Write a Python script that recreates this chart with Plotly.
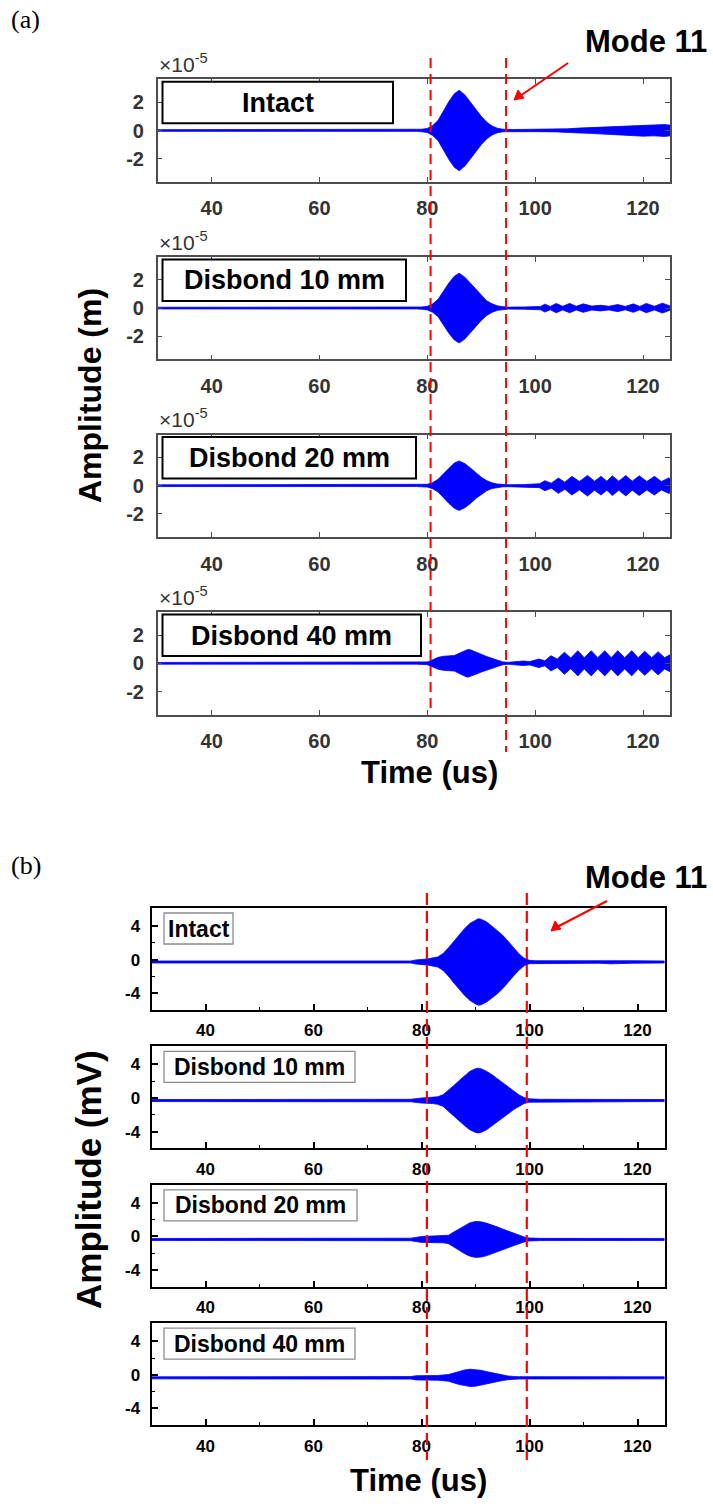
import plotly.graph_objects as go

W, H = 713, 1506

# ---------------- panel (a): displacement envelopes, units of 1e-5 m ----------------
a_labels = ["Intact", "Disbond 10 mm", "Disbond 20 mm", "Disbond 40 mm"]

a_t_intact = [30, 78, 79, 80, 81, 82, 83, 84, 85, 85.9, 87, 88, 89, 90, 91, 92, 93, 94, 96,
              100, 104, 106, 108, 110, 112, 114, 116, 118, 120, 122, 124, 125]
a_env_intact = [0.06, 0.06, 0.09, 0.15, 0.35, 0.72, 1.4, 2.05, 2.6, 2.85, 2.5, 2.0, 1.5, 1.0, 0.6,
                0.32, 0.16, 0.09, 0.07, 0.08, 0.1, 0.12, 0.17, 0.2, 0.25, 0.3, 0.33, 0.35, 0.4,
                0.38, 0.42, 0.38]

a_t_10 = [30, 78, 79, 80, 81, 82, 83, 84, 85, 85.9, 87, 88, 89, 90, 91, 92, 93, 94, 95, 98,
          100, 101, 101.8, 102.8, 103.9, 105.1, 106.4, 107.6, 108.9, 110.5, 112.1, 113.7,
          115.3, 116.7, 118.2, 119.4, 120.6, 122.1, 123.6, 125]
a_env_10 = [0.06, 0.06, 0.08, 0.13, 0.3, 0.62, 1.2, 1.78, 2.25, 2.47, 2.17, 1.75, 1.3, 0.87,
            0.52, 0.3, 0.16, 0.1, 0.07, 0.08, 0.1, 0.12, 0.28, 0.12, 0.33, 0.13, 0.33, 0.13,
            0.3, 0.14, 0.2, 0.13, 0.25, 0.12, 0.3, 0.12, 0.33, 0.13, 0.35, 0.15]

a_t_20 = [30, 78, 79, 80, 81, 82, 83, 84, 85, 85.9, 87, 88, 89, 90, 91, 92, 93, 94, 95, 98,
          99.5, 100.8, 101.8, 103, 104.3, 105.5, 106.8, 108.2, 109.7, 111, 112.2, 113.3,
          114.3, 115.5, 116.8, 118, 119.3, 120.7, 122.1, 123.4, 124.8, 125]
a_env_20 = [0.06, 0.06, 0.08, 0.1, 0.22, 0.45, 0.85, 1.25, 1.6, 1.75, 1.55, 1.25, 0.9, 0.6,
            0.36, 0.2, 0.12, 0.08, 0.07, 0.08, 0.12, 0.14, 0.35, 0.18, 0.54, 0.25, 0.66, 0.3,
            0.73, 0.32, 0.66, 0.32, 0.7, 0.32, 0.72, 0.32, 0.7, 0.3, 0.66, 0.3, 0.55, 0.5]

a_t_40 = [30, 78, 79, 80, 81, 82, 83, 84, 85, 86, 87, 87.5, 88, 89, 90, 91, 92, 93, 94, 95,
          96.5, 97.8, 99, 100.7, 101.8, 102.9, 104.1, 105.4, 106.6, 107.9, 109.1, 110.4,
          111.6, 112.9, 114.1, 115.3, 116.6, 117.9, 119.1, 120.3, 121.6, 122.8, 124, 125]
a_env_40 = [0.06, 0.06, 0.08, 0.1, 0.25, 0.42, 0.5, 0.52, 0.55, 0.72, 0.92, 0.98, 0.95, 0.78,
            0.62, 0.48, 0.35, 0.22, 0.1, 0.07, 0.1, 0.16, 0.12, 0.3, 0.18, 0.54, 0.3, 0.78,
            0.38, 0.89, 0.4, 0.89, 0.4, 0.89, 0.4, 0.89, 0.4, 0.89, 0.4, 0.85, 0.4, 0.82, 0.4,
            0.6]

a_times = [a_t_intact, a_t_10, a_t_20, a_t_40]
a_envs = [a_env_intact, a_env_10, a_env_20, a_env_40]
a_ticks = [-2, 0, 2]
a_mode_lines = [80.6, 94.6]

# ---------------- panel (b): measured voltage envelopes, mV ----------------
b_labels = ["Intact", "Disbond 10 mm", "Disbond 20 mm", "Disbond 40 mm"]
b_offset = [-0.28, -0.3, -0.36, -0.36]

b_t_intact = [30, 78, 79, 81, 83, 84, 85, 86, 87, 88, 89, 90, 90.5, 91, 92, 93, 94, 95, 96,
              97, 98, 99, 100, 101, 113, 115, 117, 119, 125]
b_env_intact = [0.12, 0.12, 0.25, 0.35, 0.6, 1.0, 1.7, 2.5, 3.3, 4.0, 4.6, 5.0, 5.15, 5.1, 4.8,
                4.3, 3.8, 3.2, 2.5, 1.7, 1.0, 0.45, 0.2, 0.15, 0.15, 0.22, 0.22, 0.15, 0.12]

b_t_10 = [30, 78, 80, 82, 83, 84, 85, 86, 87, 88, 89, 90, 90.5, 91, 92, 93, 94, 95, 96, 97,
          98, 99, 100, 102, 125]
b_env_10 = [0.12, 0.15, 0.3, 0.35, 0.45, 0.7, 1.2, 1.8, 2.4, 3.0, 3.5, 3.8, 3.86, 3.8, 3.5,
            3.1, 2.6, 2.1, 1.6, 1.1, 0.7, 0.35, 0.2, 0.15, 0.12]

b_t_20 = [30, 78, 80, 82, 84, 85, 86, 87, 88, 89, 90, 91, 92, 93, 94, 95, 96, 97, 98, 99,
          100, 102, 125]
b_env_20 = [0.12, 0.15, 0.35, 0.4, 0.4, 0.5, 0.9, 1.3, 1.7, 2.0, 2.14, 2.1, 1.95, 1.75, 1.5,
            1.25, 1.0, 0.75, 0.5, 0.3, 0.18, 0.13, 0.12]

b_t_40 = [30, 78, 79, 83, 85, 86, 87, 88, 89, 90, 91, 92, 93, 94, 95, 96, 97, 98, 125]
b_env_40 = [0.12, 0.15, 0.25, 0.28, 0.4, 0.6, 0.8, 0.95, 1.03, 1.0, 0.9, 0.75, 0.6, 0.45,
            0.32, 0.22, 0.17, 0.14, 0.12]

b_times = [b_t_intact, b_t_10, b_t_20, b_t_40]
b_envs = [b_env_intact, b_env_10, b_env_20, b_env_40]
b_ticks = [-4, 0, 4]
b_mode_lines = [81.0, 99.5]

x_ticks = [40, 60, 80, 100, 120]
x_range = [30, 125]

BLUE = "#0000ff"
RED = "#ff0000"
FONT = "Liberation Sans, Arial, sans-serif"


def px(x):
    return x / W


def py(y):
    return 1 - y / H


# pixel layout of the two stacks of axes
A_LEFT, A_RIGHT, A_TOP0, A_PITCH, A_HT = 157.7, 670.0, 79.3, 177.6, 102.4
B_LEFT, B_RIGHT, B_TOP0, B_PITCH, B_HT = 151.5, 664.5, 908.0, 138.4, 102.0

fig = go.Figure()
layout = {}
shapes = []
annotations = []


def band(t, env, c):
    xs = list(t) + list(t)[::-1]
    ys = [c + e for e in env] + [c - e for e in env][::-1]
    return xs, ys


# panel (a)
for k in range(4):
    n = k + 1
    top = A_TOP0 + k * A_PITCH
    bot = top + A_HT
    xs, ys = band(a_times[k], a_envs[k], 0.0)
    fig.add_trace(go.Scatter(x=xs, y=ys, fill="toself", fillcolor=BLUE, mode="lines",
                             line=dict(color=BLUE, width=0.8), xaxis=f"x{n}", yaxis=f"y{n}",
                             showlegend=False, hoverinfo="skip"))
    layout[f"xaxis{n}"] = dict(
        domain=[px(A_LEFT), px(A_RIGHT)], anchor=f"y{n}", range=x_range,
        tickvals=x_ticks, ticks="inside", ticklen=5, tickwidth=1.3, tickcolor="#4d4d4d",
        showline=True, linecolor="#4d4d4d", linewidth=1.5, mirror="ticks",
        showgrid=False, zeroline=False, ticklabelstandoff=8,
        tickfont=dict(family=FONT, size=20, color="#333333", weight="bold"))
    layout[f"yaxis{n}"] = dict(
        domain=[py(bot), py(top)], anchor=f"x{n}", range=[-3.62, 3.62],
        tickvals=a_ticks, ticktext=[str(v) for v in a_ticks], ticks="inside", ticklen=5,
        tickwidth=1.3, tickcolor="#4d4d4d", showline=True, linecolor="#4d4d4d",
        linewidth=1.5, mirror="ticks", showgrid=False, zeroline=False,
        ticklabelstandoff=8,
        tickfont=dict(family=FONT, size=20, color="#333333", weight="bold"))
    # exponent label
    annotations.append(dict(x=px(157), y=py(top - 1), xref="paper", yref="paper",
                            xanchor="left", yanchor="bottom", showarrow=False,
                            text="×10<sup>-5</sup>",
                            font=dict(family=FONT, size=21, color="#333333")))
    # label box
    box_right = [393, 406, 416, 421][k]
    shapes.append(dict(type="rect", xref="paper", yref="paper",
                       x0=px(162.5), x1=px(box_right), y0=py(top + 44), y1=py(top + 2.5),
                       line=dict(color="black", width=2), fillcolor="white"))
    annotations.append(dict(x=px((162.5 + box_right) / 2), y=py(top + 23.5), xref="paper",
                            yref="paper", xanchor="center", yanchor="middle",
                            showarrow=False, text=a_labels[k],
                            font=dict(family=FONT, size=27, color="black", weight="bold")))

# panel (b)
for k in range(4):
    n = k + 5
    top = B_TOP0 + k * B_PITCH
    bot = top + B_HT
    xs, ys = band(b_times[k], b_envs[k], b_offset[k])
    fig.add_trace(go.Scatter(x=xs, y=ys, fill="toself", fillcolor=BLUE, mode="lines",
                             line=dict(color=BLUE, width=0.8), xaxis=f"x{n}", yaxis=f"y{n}",
                             showlegend=False, hoverinfo="skip"))
    layout[f"xaxis{n}"] = dict(
        domain=[px(B_LEFT), px(B_RIGHT)], anchor=f"y{n}", range=x_range,
        tickvals=x_ticks, ticks="inside", ticklen=6, tickwidth=1.5, tickcolor="black",
        minor=dict(ticks="inside", ticklen=3, tickwidth=1.2, tickcolor="black",
                   tickvals=[50, 70, 90, 110]),
        showline=True, linecolor="black", linewidth=2, mirror=True,
        showgrid=False, zeroline=False, ticklabelstandoff=4,
        tickfont=dict(family=FONT, size=17, color="black", weight="bold"))
    layout[f"yaxis{n}"] = dict(
        domain=[py(bot), py(top)], anchor=f"x{n}", range=[-6.0, 6.15],
        tickvals=b_ticks, ticktext=[str(v) for v in b_ticks], ticks="inside", ticklen=6,
        tickwidth=1.5, tickcolor="black",
        minor=dict(ticks="inside", ticklen=3, tickwidth=1.2, tickcolor="black",
                   tickvals=[-2, 2]),
        showline=True, linecolor="black", linewidth=2, mirror=True, showgrid=False,
        zeroline=False, ticklabelstandoff=6,
        tickfont=dict(family=FONT, size=17, color="black", weight="bold"))
    box_right = [233, 355, 357, 355][k]
    shapes.append(dict(type="rect", xref="paper", yref="paper",
                       x0=px(164), x1=px(box_right), y0=py(top + 36), y1=py(top + 5),
                       line=dict(color="#8c8c8c", width=1.3), fillcolor="white"))
    annotations.append(dict(x=px((164 + box_right) / 2), y=py(top + 20.5), xref="paper",
                            yref="paper", xanchor="center", yanchor="middle",
                            showarrow=False, text=b_labels[k],
                            font=dict(family=FONT, size=23, color="black", weight="bold")))

# mode 11 window markers
for t, y_end in zip(a_mode_lines, [712, 752]):
    shapes.append(dict(type="line", xref="x1", yref="paper", x0=t, x1=t,
                       y0=py(58), y1=py(y_end), line=dict(color=RED, width=2, dash="10px,6px")))
for t in b_mode_lines:
    shapes.append(dict(type="line", xref="x5", yref="paper", x0=t, x1=t,
                       y0=py(893), y1=py(1460), line=dict(color=RED, width=2.2, dash="12px,6px")))

# pointer arrows towards the mode 11 window
for (hx, hy, tx, ty) in [(514, 100, 568, 63), (551, 931, 607, 901)]:
    shapes.append(dict(type="line", xref="paper", yref="paper", x0=px(tx), y0=py(ty),
                       x1=px(hx + 6), y1=py(hy - 4), line=dict(color=RED, width=2)))
    shapes.append(dict(type="path", xref="paper", yref="paper",
                       path=(f"M {px(hx)} {py(hy)} L {px(hx + 4)} {py(hy - 10)} "
                             f"L {px(hx + 10)} {py(hy - 2)} Z"),
                       line=dict(color=RED, width=1), fillcolor=RED))

# panel letters, mode labels, axis titles
for txt, y in [("(a)", 20), ("(b)", 865)]:
    annotations.append(dict(x=px(9), y=py(y), xref="paper", yref="paper", xanchor="left",
                            yanchor="middle", showarrow=False, text=txt,
                            font=dict(family="Liberation Serif, Times New Roman, serif",
                                      size=26, color="black")))
for y in [42, 877]:
    annotations.append(dict(x=px(646), y=py(y), xref="paper", yref="paper", xanchor="center",
                            yanchor="middle", showarrow=False, text="Mode 11",
                            font=dict(family=FONT, size=31, color="black", weight="bold")))
for txt, x, y in [("Time (us)", 429, 772), ("Time (us)", 419, 1480)]:
    annotations.append(dict(x=px(x), y=py(y), xref="paper", yref="paper", xanchor="center",
                            yanchor="middle", showarrow=False, text=txt,
                            font=dict(family=FONT, size=31, color="black", weight="bold")))
for txt, x, y, s in [("Amplitude (m)", 90, 396, 32), ("Amplitude (mV)", 88, 1180, 35)]:
    annotations.append(dict(x=px(x), y=py(y), xref="paper", yref="paper", xanchor="center",
                            yanchor="middle", showarrow=False, text=txt, textangle=-90,
                            font=dict(family=FONT, size=s, color="black", weight="bold")))

fig.update_layout(width=W, height=H, margin=dict(l=0, r=0, t=0, b=0, pad=0),
                  paper_bgcolor="white", plot_bgcolor="white", showlegend=False,
                  shapes=shapes, annotations=annotations, **layout)

fig.write_html("out.html")
